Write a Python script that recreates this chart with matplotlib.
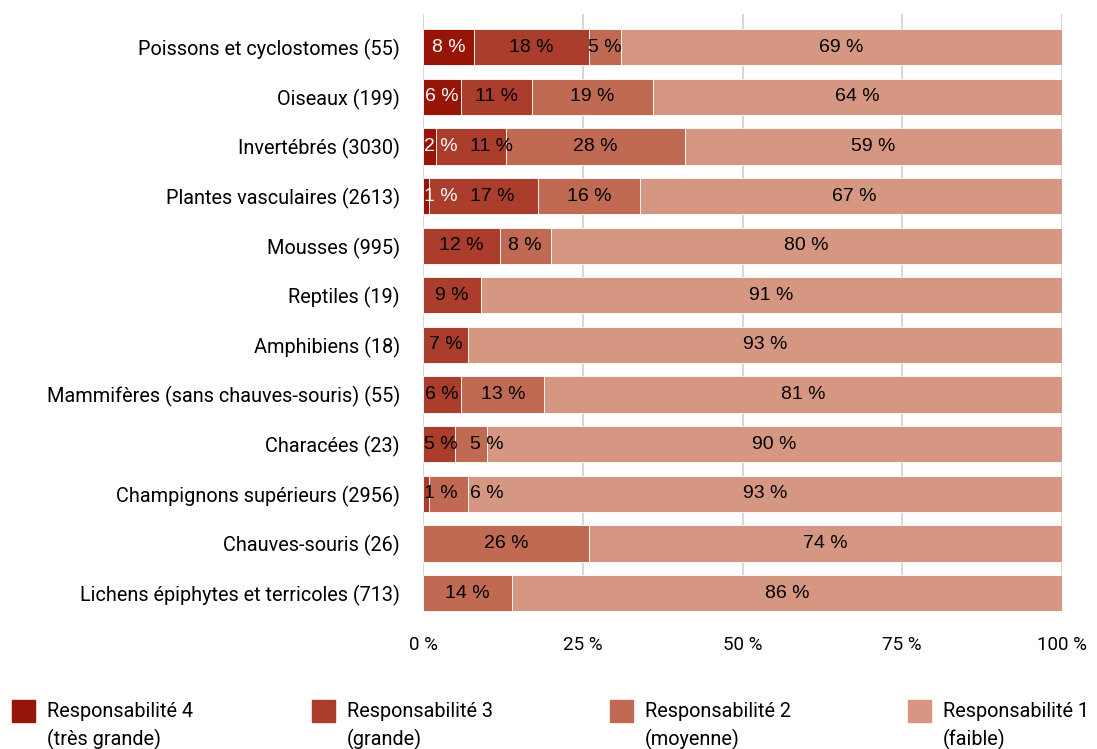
import matplotlib.pyplot as plt
import matplotlib.patches as mpatches
from matplotlib.ticker import FuncFormatter
import numpy as np

# groupes d'especes (nombre d'especes evaluees)
groupes = ['Poissons et cyclostomes (55)', 'Oiseaux (199)', 'Invertébrés (3030)',
           'Plantes vasculaires (2613)', 'Mousses (995)', 'Reptiles (19)',
           'Amphibiens (18)', 'Mammifères (sans chauves-souris) (55)',
           'Characées (23)', 'Champignons supérieurs (2956)', 'Chauves-souris (26)',
           'Lichens épiphytes et terricoles (713)']

# part des especes par degre de responsabilite (%)
resp4 = [8, 6, 2, 1, 0, 0, 0, 0, 0, 0, 0, 0]
resp3 = [18, 11, 11, 17, 12, 9, 7, 6, 5, 1, 0, 0]
resp2 = [5, 19, 28, 16, 8, 0, 0, 13, 5, 6, 26, 14]
resp1 = [69, 64, 59, 67, 80, 91, 93, 81, 90, 93, 74, 86]

series = [resp4, resp3, resp2, resp1]
noms = ['Responsabilité 4\n(très grande)', 'Responsabilité 3\n(grande)',
        'Responsabilité 2\n(moyenne)', 'Responsabilité 1\n(faible)']
couleurs = ['#961408', '#aa3d2c', '#c06a54', '#d59782']
couleurs_txt = ['white', 'black', 'black', 'black']

fig = plt.figure(figsize=(10.97, 7.49), dpi=100)
ax = fig.add_axes([0.3856, 0.183, 0.5825, 0.798])

y = np.arange(len(groupes))
gauche = np.zeros(len(groupes))
etiquettes = [[] for _ in groupes]   # textes par ligne, dans l'ordre
for vals, coul, ctxt in zip(series, couleurs, couleurs_txt):
    vals = np.array(vals, dtype=float)
    barres = ax.barh(y, vals, left=gauche, height=0.73, color=coul,
                     edgecolor='white', linewidth=0.6, zorder=2)
    for i, (b, v) in enumerate(zip(barres, vals)):
        if v > 0:
            cx = b.get_x() + b.get_width() / 2
            t = ax.text(cx, b.get_y() + b.get_height() / 2, f'{int(v)} %',
                        ha='center', va='center', color=ctxt, fontsize=14,
                        family=['Liberation Sans', 'DejaVu Sans'], zorder=3)
            etiquettes[i].append(t)
    gauche += vals

ax.set_xlim(0, 100)
ax.set_ylim(11.38, -0.665)
ax.set_yticks(y)
ax.set_yticklabels(groupes, fontsize=14.3, family=['Roboto', 'DejaVu Sans'])
ax.set_xticks([0, 25, 50, 75, 100])
ax.xaxis.set_major_formatter(FuncFormatter(lambda v, p: f'{int(v)} %'))
for lab in ax.get_xticklabels():
    lab.set_fontsize(13.5)
    lab.set_family(['Liberation Sans Narrow', 'Roboto', 'DejaVu Sans'])
ax.tick_params(axis='y', length=0, pad=16.5)
ax.tick_params(axis='x', length=0, pad=17)
ax.grid(axis='x', color='#d9d6d4', linewidth=1.5, zorder=0)
ax.set_axisbelow(True)
for s in ax.spines.values():
    s.set_visible(False)

# decaler les etiquettes des petits segments pour eviter qu'elles se chevauchent
fig.canvas.draw()
rend = fig.canvas.get_renderer()
px_par_unite = ax.transData.transform((1, 0))[0] - ax.transData.transform((0, 0))[0]
for ligne in etiquettes:
    droite = 1.0 / px_par_unite   # bord gauche de l'axe
    for t in ligne:
        w = t.get_window_extent(rend).width / px_par_unite
        x, yy = t.get_position()
        g = max(x - w / 2, droite)
        t.set_position((g + w / 2, yy))
        droite = g + w + 12 / px_par_unite

# legende en bas, placee a la main
xs = [12, 312, 610, 908]
for x0, nom, coul in zip(xs, noms, couleurs):
    fig.patches.append(mpatches.Rectangle((x0 / 1097, 1 - 722 / 749), 23 / 1097, 22 / 749,
                                          transform=fig.transFigure, color=coul))
    fig.text((x0 + 35) / 1097, 1 - 702 / 749, nom, fontsize=14.3, va='top', ha='left',
             linespacing=1.5, family=['Roboto', 'DejaVu Sans'])

fig.savefig('out.png', dpi=100)
